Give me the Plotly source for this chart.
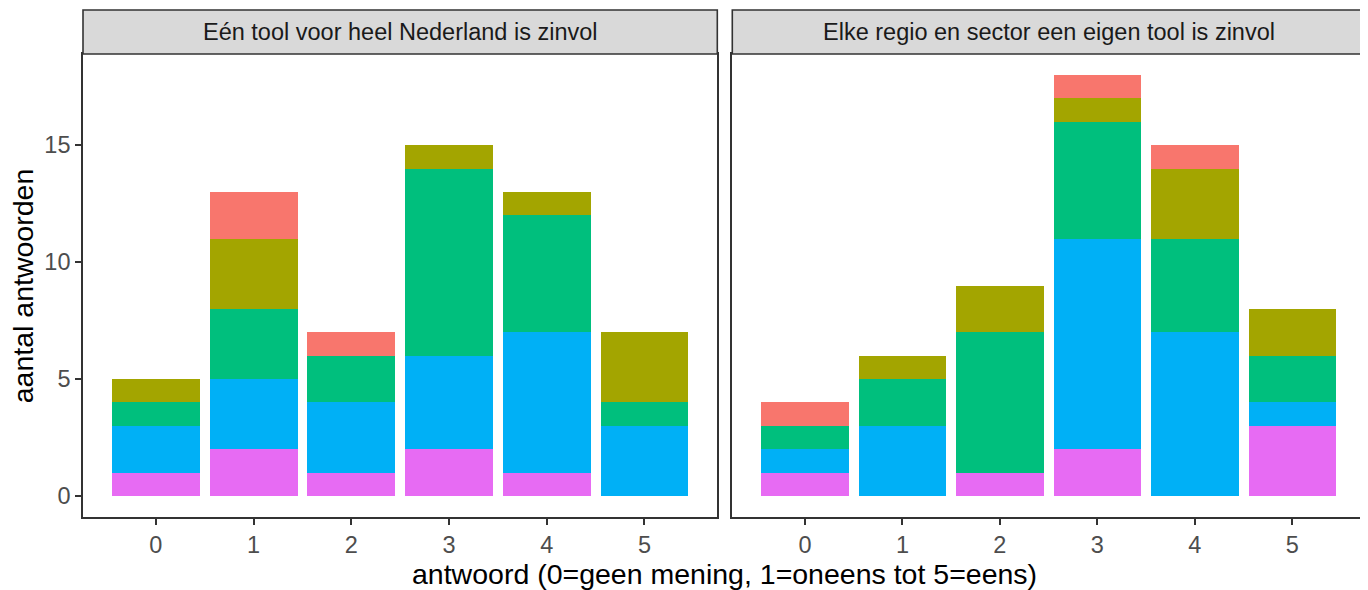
import plotly.graph_objects as go

# Data
answers = [0, 1, 2, 3, 4, 5]
panels = ["Eén tool voor heel Nederland is zinvol",
          "Elke regio en sector een eigen tool is zinvol"]
groups = ["groep 5", "groep 4", "groep 3", "groep 2", "groep 1"]  # bottom -> top
colors = ["#E76BF3", "#00B0F6", "#00BF7D", "#A3A500", "#F8766D"]

# left panel: counts per group (bottom -> top)
left_g5 = [1, 2, 1, 2, 1, 0]
left_g4 = [2, 3, 3, 4, 6, 3]
left_g3 = [1, 3, 2, 8, 5, 1]
left_g2 = [1, 3, 0, 1, 1, 3]
left_g1 = [0, 2, 1, 0, 0, 0]

right_g5 = [1, 0, 1, 2, 0, 3]
right_g4 = [1, 3, 0, 9, 7, 1]
right_g3 = [1, 2, 6, 5, 4, 2]
right_g2 = [0, 1, 2, 1, 3, 2]
right_g1 = [1, 0, 0, 1, 1, 0]

left = [left_g5, left_g4, left_g3, left_g2, left_g1]
right = [right_g5, right_g4, right_g3, right_g2, right_g1]

y_ticks = [0, 5, 10, 15]

FONT = "Liberation Sans, Arial, Helvetica, sans-serif"
OFF = 8  # page body margin
W, H = 1368 - OFF, 590 - OFF
ml, mr, mt, mb = 83.3 - OFF, 1368 - 1366.7, 54 - OFF, 590 - 517
pw = W - ml - mr
ph = H - mt - mb
left_dom = [0, (718.3 - OFF - ml) / pw]
right_dom = [(733.3 - OFF - ml) / pw, 1]

fig = go.Figure()
for vals_set, xa, ya in [(left, "x", "y"), (right, "x2", "y2")]:
    for name, col, vals in zip(groups, colors, vals_set):
        fig.add_trace(go.Bar(x=answers, y=vals, name=name, marker_color=col,
                             marker_line_width=0, width=0.9, xaxis=xa, yaxis=ya,
                             showlegend=False))

axis_common = dict(showgrid=False, zeroline=False, showline=True, mirror=True,
                   linecolor="#333333", linewidth=1.6,
                   ticklen=6, tickwidth=1.6, tickcolor="#333333",
                   tickfont=dict(family=FONT, size=23.5, color="#4D4D4D"))

fig.update_layout(
    width=W, height=H, barmode="stack",
    margin=dict(l=ml, r=mr, t=mt, b=mb),
    plot_bgcolor="white", paper_bgcolor="white",
    xaxis=dict(domain=left_dom, range=[-0.745, 5.745], tickvals=answers, ticks="outside", **axis_common),
    xaxis2=dict(domain=right_dom, range=[-0.745, 5.745], tickvals=answers, ticks="outside", **axis_common),
    yaxis=dict(domain=[0, 1], range=[-0.9, 18.9], tickvals=y_ticks, anchor="x", ticks="outside", **axis_common),
    yaxis2=dict(domain=[0, 1], range=[-0.9, 18.9], tickvals=y_ticks, anchor="x2",
                showticklabels=False, ticks="", **axis_common),
)

strip_h = 44 / ph
shapes = []
annotations = []
for xd, yd, title in [("x domain", "y domain", panels[0]), ("x2 domain", "y2 domain", panels[1])]:
    shapes.append(dict(type="rect", xref=xd, yref=yd, x0=0, x1=1, y0=1, y1=1 + strip_h,
                       fillcolor="#D9D9D9", line=dict(color="#333333", width=1.6), layer="above"))
    annotations.append(dict(text=title, xref=xd, yref=yd, x=0.5, y=1 + strip_h / 2,
                            showarrow=False, font=dict(family=FONT, size=23.5, color="#1A1A1A"),
                            xanchor="center", yanchor="middle"))

annotations.append(dict(text="antwoord (0=geen mening, 1=oneens tot 5=eens)", xref="paper", yref="paper",
                        x=(725 - OFF - ml) / pw, y=-(574 - 517) / ph, showarrow=False,
                        font=dict(family=FONT, size=28.5, color="black"), xanchor="center", yanchor="middle"))
annotations.append(dict(text="aantal antwoorden", xref="paper", yref="paper",
                        x=-(ml - (23 - OFF)) / pw, y=0.5, textangle=-90, showarrow=False,
                        font=dict(family=FONT, size=28.5, color="black"), xanchor="center", yanchor="middle"))
fig.update_layout(shapes=shapes, annotations=annotations)

fig.write_html("out.html")
